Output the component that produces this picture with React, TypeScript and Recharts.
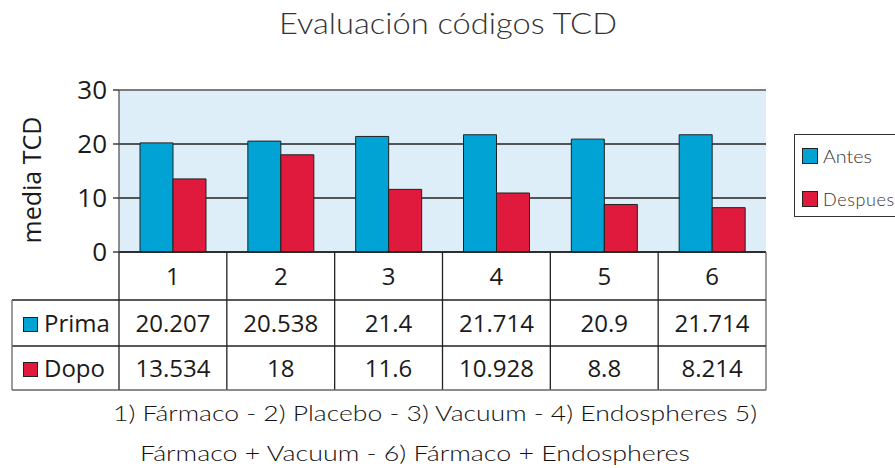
import React from 'react';
import { BarChart, Bar, XAxis, YAxis, CartesianGrid, ReferenceLine } from 'recharts';

const categories = ['1', '2', '3', '4', '5', '6'];
const antes = [20.207, 20.538, 21.4, 21.714, 20.9, 21.714];
const despues = [13.534, 18, 11.6, 10.928, 8.8, 8.214];
const antesLabels = ['20.207', '20.538', '21.4', '21.714', '20.9', '21.714'];
const despuesLabels = ['13.534', '18', '11.6', '10.928', '8.8', '8.214'];
const yTicks = [0, 10, 20, 30];
const seriesNames = ['Antes', 'Despues'];
const tableRowNames = ['Prima', 'Dopo'];
const titleText = 'Evaluación códigos TCD';
const yLabel = 'media TCD';
const footnote = [
  '1) Fármaco - 2) Placebo - 3) Vacuum - 4) Endospheres 5)',
  'Fármaco + Vacuum - 6) Fármaco + Endospheres',
];

const data = categories.map((c, i) => ({ cat: c, antes: antes[i], despues: despues[i] }));

const W = 895;
const H = 468;
const M = { top: 90, right: 129, bottom: 78, left: 0 };
const PLOT_L = 119;
const PLOT_R = W - M.right;
const PLOT_B = H - M.bottom - 138;
const BW = (PLOT_R - PLOT_L) / categories.length;
const ROW1 = 300;
const ROW2 = 346;
const ROW3 = 390;
const TABLE_L = 12;
const BLUE = '#00a3d4';
const RED = '#e01a3c';
const LINE = '#222';
const TFONT = '"Open Sans", "Noto Sans", sans-serif';
const GFONT = 'Lato, "Noto Sans", sans-serif';

const XTick = (props: any) => {
  const { x, index } = props;
  const l = x - BW / 2;
  const r = x + BW / 2;
  const ts = { fontFamily: TFONT, fontSize: 24, fill: '#1a1a1a' } as any;
  return (
    <g>
      <line x1={r} y1={PLOT_B} x2={r} y2={ROW3} stroke={index === categories.length - 1 ? '#666' : LINE} strokeWidth={1.3} />
      <line x1={l} y1={ROW1} x2={r} y2={ROW1} stroke={LINE} strokeWidth={1.3} />
      <line x1={l} y1={ROW2} x2={r} y2={ROW2} stroke={LINE} strokeWidth={1.3} />
      <line x1={l} y1={ROW3} x2={r} y2={ROW3} stroke="#666" strokeWidth={1.3} />
      <text x={x} y={285} textAnchor="middle" {...ts}>{categories[index]}</text>
      <text x={x} y={332} textAnchor="middle" {...ts}>{antesLabels[index]}</text>
      <text x={x} y={377} textAnchor="middle" {...ts}>{despuesLabels[index]}</text>
      {index === 0 && (
        <g>
          <line x1={l} y1={PLOT_B} x2={l} y2={ROW3} stroke={LINE} strokeWidth={1.3} />
          <line x1={TABLE_L} y1={ROW1} x2={l} y2={ROW1} stroke={LINE} strokeWidth={1.3} />
          <line x1={TABLE_L} y1={ROW2} x2={l} y2={ROW2} stroke={LINE} strokeWidth={1.3} />
          <line x1={TABLE_L} y1={ROW3} x2={l} y2={ROW3} stroke="#666" strokeWidth={1.3} />
          <line x1={TABLE_L} y1={ROW1} x2={TABLE_L} y2={ROW3} stroke="#666" strokeWidth={1.3} />
          <rect x={23.5} y={317.5} width={14} height={14} fill={BLUE} stroke={LINE} strokeWidth={1} />
          <rect x={23.5} y={362.5} width={14} height={14} fill={RED} stroke={LINE} strokeWidth={1} />
          <text x={44} y={332} {...ts}>{tableRowNames[0]}</text>
          <text x={44} y={377} {...ts}>{tableRowNames[1]}</text>
        </g>
      )}
    </g>
  );
};

export default function App() {
  return (
    <div style={{ position: 'absolute', left: 0, top: 0, width: W, height: H, overflow: 'hidden', background: '#fff' }}>
      <BarChart
        width={W}
        height={H}
        data={data}
        margin={M}
        barSize={33}
        barGap={0}
        style={{ fontFamily: TFONT }}
      >
        <CartesianGrid vertical={false} stroke={LINE} strokeWidth={1.3} fill="#deeef9" fillOpacity={1} />
        <ReferenceLine y={30} stroke="#888" strokeWidth={1.5} />
        <XAxis
          dataKey="cat"
          height={138}
          interval={0}
          tickLine={false}
          axisLine={{ stroke: LINE, strokeWidth: 1.5 }}
          tick={<XTick />}
        />
        <YAxis
          width={119}
          domain={[0, 30]}
          ticks={yTicks}
          interval={0}
          tickSize={6}
          tickMargin={6}
          tickLine={{ stroke: LINE, strokeWidth: 1.3 }}
          axisLine={{ stroke: '#555', strokeWidth: 1.3 }}
          tick={{ fontSize: 26, fill: '#1a1a1a', fontFamily: TFONT }}
        />
        <YAxis
          yAxisId="r"
          orientation="right"
          width={0}
          domain={[0, 30]}
          tick={false}
          tickLine={false}
          axisLine={{ stroke: '#888', strokeWidth: 1.5 }}
        />
        <Bar dataKey="antes" name={seriesNames[0]} fill={BLUE} stroke={LINE} strokeWidth={1} isAnimationActive={false} />
        <Bar dataKey="despues" name={seriesNames[1]} fill={RED} stroke={LINE} strokeWidth={1} isAnimationActive={false} />
      </BarChart>
      <svg width={W} height={H} style={{ position: 'absolute', left: 0, top: 0, pointerEvents: 'none' }}>
        <text x={279} y={34} textLength={338} lengthAdjust="spacingAndGlyphs" fontFamily={GFONT} fontWeight={300} fontSize={29} fill="#333">{titleText}</text>
        <text x={0} y={0} transform="translate(41,180) rotate(-90)" textAnchor="middle" fontFamily={TFONT} fontSize={25} fill="#1a1a1a">{yLabel}</text>
        <rect x={794.5} y={134.5} width={130} height={82} fill="#fff" stroke="#333" strokeWidth={1} />
        <rect x={802.5} y={148.5} width={15} height={15} fill={BLUE} stroke={LINE} strokeWidth={1} />
        <rect x={802.5} y={191.5} width={15} height={15} fill={RED} stroke={LINE} strokeWidth={1} />
        <text x={823} y={163} textLength={49} lengthAdjust="spacingAndGlyphs" fontFamily={GFONT} fontWeight={300} fontSize={18} fill="#333">{seriesNames[0]}</text>
        <text x={823} y={206} fontFamily={GFONT} fontWeight={300} fontSize={18} fill="#333" letterSpacing={0.6}>{seriesNames[1]}</text>
        <text x={113} y={421} textLength={644} lengthAdjust="spacingAndGlyphs" fontFamily={GFONT} fontWeight={300} fontSize={22} fill="#111">{footnote[0]}</text>
        <text x={140} y={461} textLength={550} lengthAdjust="spacingAndGlyphs" fontFamily={GFONT} fontWeight={300} fontSize={22} fill="#111">{footnote[1]}</text>
      </svg>
    </div>
  );
}
